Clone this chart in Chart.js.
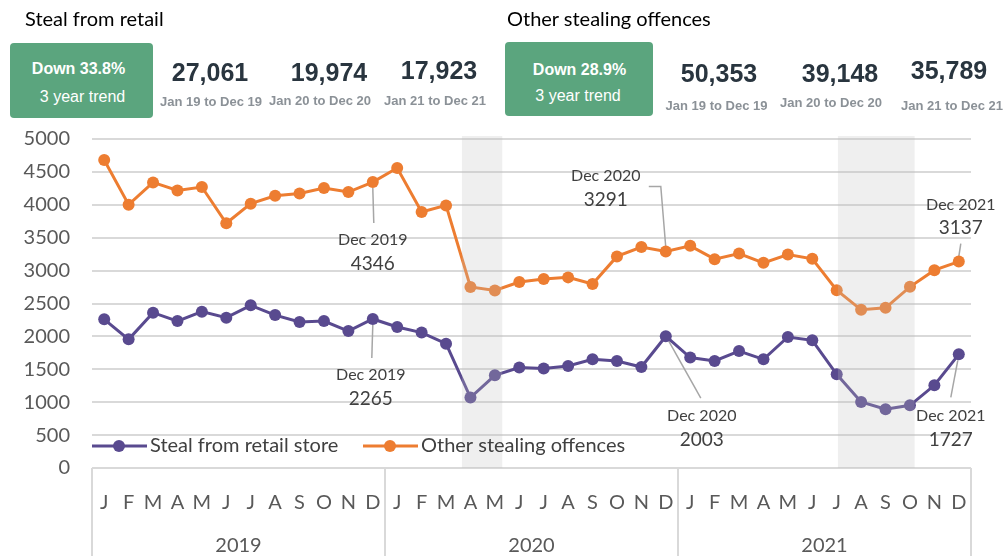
<!DOCTYPE html>
<html>
<head>
<meta charset="utf-8">
<script src="https://cdn.jsdelivr.net/npm/chart.js@4/dist/chart.umd.min.js"></script>
<style>
  html, body { margin:0; padding:0; background:#fff; }
  #wrap { position:relative; width:1008px; height:556px; overflow:hidden; }
  #c { position:absolute; left:0; top:0; }
  .t { position:absolute; white-space:nowrap; line-height:1; }
  .box { position:absolute; background:#5ba57e; border-radius:4px; }
</style>
</head>
<body>
<div id="wrap"><canvas id="c" width="1008" height="556"></canvas></div>
<script>
// ---------- data ----------
const months = ['J','F','M','A','M','J','J','A','S','O','N','D'];
const years = ['2019','2020','2021'];
const seriesNames = ['Steal from retail store', 'Other stealing offences'];
const retail = [
  2259,1955,2361,2233,2376,2285,2472,2324,2218,2233,2081,2265,
  2143,2058,1890,1070,1409,1526,1511,1550,1652,1626,1535,2003,
  1678,1626,1778,1652,1991,1941,1424,1003,892,953,1257,1727
];
const other = [
  4680,4002,4340,4219,4270,3720,4017,4138,4173,4255,4194,4346,
  4559,3890,3991,2751,2699,2827,2872,2897,2796,3216,3359,3291,
  3376,3174,3260,3118,3245,3179,2703,2404,2434,2753,3007,3137
];
const yMin = 0, yMax = 5000, yStep = 500;
const panelTitles = ['Steal from retail', 'Other stealing offences'];
const trendText = ['Down 33.8%', 'Down 28.9%'];
const trendSub = '3 year trend';
const totalsRetail = ['27,061', '19,974', '17,923'];
const totalsOther = ['50,353', '39,148', '35,789'];
const periods = ['Jan 19 to Dec 19', 'Jan 20 to Dec 20', 'Jan 21 to Dec 21'];
const calloutMonths = ['Dec 2019', 'Dec 2020', 'Dec 2021'];

// ---------- header ----------
const wrap = document.getElementById('wrap');
function put(text, x, y, css, align) {
  const d = document.createElement('div');
  d.className = 't';
  d.textContent = text;
  d.style.left = x + 'px';
  d.style.top = y + 'px';
  d.style.transform = align === 'left' ? 'translate(0,-50%)' : 'translate(-50%,-50%)';
  d.style.cssText += css;
  wrap.appendChild(d);
}
function box(x, y, w, h) {
  const b = document.createElement('div');
  b.className = 'box';
  b.style.left = x + 'px'; b.style.top = y + 'px';
  b.style.width = w + 'px'; b.style.height = h + 'px';
  wrap.appendChild(b);
}
const titleCss = 'font-family:Lato;font-size:20px;color:#000;';
const bigCss = 'font-family:"Liberation Sans";font-weight:bold;font-size:25px;color:#29353f;';
const perCss = 'font-family:"Liberation Sans";font-weight:bold;font-size:13px;color:#8b9197;';
const tBold = 'font-family:"Liberation Sans";font-weight:bold;font-size:16px;color:#fff;';
const tReg = 'font-family:"Liberation Sans";font-size:16px;color:#fff;';

put(panelTitles[0], 25, 18, titleCss, 'left');
put(panelTitles[1], 507, 18, titleCss, 'left');
box(10, 43, 143, 75);
box(505, 42, 148, 74);
put(trendText[0], 78.5, 68.5, tBold);
put(trendSub, 82.5, 97, tReg);
put(trendText[1], 579.5, 70, tBold);
put(trendSub, 578, 96, tReg);

const bigPos1 = [[210,72],[329,71.5],[439,69.5]];
const perPos1 = [[211,100.5],[320,100],[435,100]];
const bigPos2 = [[719,73],[840,73],[949,69.5]];
const perPos2 = [[716.5,105],[831,102],[952,105]];
totalsRetail.forEach((v,i)=>put(v, bigPos1[i][0], bigPos1[i][1], bigCss));
totalsOther.forEach((v,i)=>put(v, bigPos2[i][0], bigPos2[i][1], bigCss));
periods.forEach((v,i)=>put(v, perPos1[i][0], perPos1[i][1], perCss));
periods.forEach((v,i)=>put(v, perPos2[i][0], perPos2[i][1], perCss));

// ---------- chart ----------
const labels = [];
years.forEach(y => months.forEach(m => labels.push(m)));

const PURPLE = '#594a8f', ORANGE = '#ed7d31';
const GRID = '#d9d9d9', TXT = '#595959', DARK = '#404040', LEAD = '#a6a6a6';

// callouts: dataset index, data index, offsets relative to the point
const callouts = [
  {ds:1, i:11, name:calloutMonths[0], path:[[0,6],[1,41]], l1:[0,58], l2:[0,82]},
  {ds:0, i:11, name:calloutMonths[0], path:[[0,6],[-1,39]], l1:[-2,56], l2:[-2,80]},
  {ds:1, i:23, name:calloutMonths[1], path:[[0,-4],[-5,-65],[-17,-65]], l1:[-60,-76], l2:[-60,-52]},
  {ds:0, i:23, name:calloutMonths[1], path:[[3,5],[35,62]], l1:[36,80], l2:[36,104]},
  {ds:1, i:35, name:calloutMonths[2], path:[[0,-5],[2,-18]], l1:[2,-57], l2:[2,-34]},
  {ds:0, i:35, name:calloutMonths[2], path:[[-1,6],[-8,43]], l1:[-8,61], l2:[-8,86]}
];
const bands = [[14.65, 16.3], [30.05, 33.19]];

function xAt(chart, f) {
  const xs = chart.scales.x;
  const x0 = xs.getPixelForValue(0), step = xs.getPixelForValue(1) - x0;
  return x0 + f * step;
}

const overlay = {
  id: 'overlay',
  beforeDatasetsDraw(chart) {
    const ctx = chart.ctx;
    ctx.save();
    ctx.strokeStyle = LEAD; ctx.lineWidth = 1.5;
    callouts.forEach(c => {
      const p = chart.getDatasetMeta(c.ds).data[c.i];
      ctx.beginPath();
      c.path.forEach((o, k) => {
        const x = p.x + o[0], y = p.y + o[1];
        if (k === 0) ctx.moveTo(x, y); else ctx.lineTo(x, y);
      });
      ctx.stroke();
    });
    ctx.restore();
  },
  afterDatasetsDraw(chart) {
    const ctx = chart.ctx, ca = chart.chartArea;
    ctx.save();
    // shaded bands
    ctx.fillStyle = 'rgba(191,191,191,0.25)';
    bands.forEach(b => {
      const x1 = xAt(chart, b[0]), x2 = xAt(chart, b[1]);
      ctx.fillRect(x1, ca.top - 3, x2 - x1, ca.bottom - ca.top + 3);
    });
    // callout texts
    ctx.fillStyle = DARK;
    ctx.textAlign = 'center';
    ctx.textBaseline = 'middle';
    callouts.forEach(c => {
      const p = chart.getDatasetMeta(c.ds).data[c.i];
      const v = chart.data.datasets[c.ds].data[c.i];
      ctx.font = '16px Lato';
      ctx.fillText(c.name, p.x + c.l1[0], p.y + c.l1[1]);
      ctx.font = '19px Lato';
      ctx.fillText(String(v), p.x + c.l2[0], p.y + c.l2[1]);
    });
    // legend
    const ly = 446;
    const items = [
      {x: ca.left, color: PURPLE, text: chart.data.datasets[0].label},
      {x: 363, color: ORANGE, text: chart.data.datasets[1].label}
    ];
    items.forEach(it => {
      ctx.strokeStyle = it.color; ctx.lineWidth = 3;
      ctx.beginPath(); ctx.moveTo(it.x, ly); ctx.lineTo(it.x + 55, ly); ctx.stroke();
      ctx.fillStyle = it.color;
      ctx.beginPath(); ctx.arc(it.x + 27, ly, 6, 0, Math.PI * 2); ctx.fill();
      ctx.fillStyle = DARK;
      ctx.font = '20px Lato';
      ctx.textAlign = 'left';
      ctx.fillText(it.text, it.x + 58, ly);
    });
    ctx.restore();
  },
  afterDraw(chart) {
    const ctx = chart.ctx, ca = chart.chartArea;
    const H = chart.height;
    ctx.save();
    ctx.strokeStyle = GRID; ctx.lineWidth = 2;
    const n = months.length;
    for (let k = 0; k <= years.length; k++) {
      const x = xAt(chart, k * n - 0.5);
      ctx.beginPath(); ctx.moveTo(x, ca.bottom); ctx.lineTo(x, H); ctx.stroke();
    }
    ctx.fillStyle = TXT;
    ctx.font = '20px Lato';
    ctx.textAlign = 'center'; ctx.textBaseline = 'middle';
    years.forEach((y, k) => {
      const x = (xAt(chart, k * n - 0.5) + xAt(chart, (k + 1) * n - 0.5)) / 2;
      ctx.fillText(y, x, 546);
    });
    ctx.restore();
  }
};

new Chart(document.getElementById('c'), {
  type: 'line',
  data: {
    labels: labels,
    datasets: [
      {label: seriesNames[0], data: retail, borderColor: PURPLE, backgroundColor: PURPLE,
       pointBackgroundColor: PURPLE, pointBorderColor: PURPLE, pointBorderWidth: 0,
       pointRadius: 6, borderWidth: 3, tension: 0},
      {label: seriesNames[1], data: other, borderColor: ORANGE, backgroundColor: ORANGE,
       pointBackgroundColor: ORANGE, pointBorderColor: ORANGE, pointBorderWidth: 0,
       pointRadius: 6, borderWidth: 3, tension: 0}
    ]
  },
  options: {
    responsive: false,
    animation: false,
    events: [],
    layout: {padding: {left: 0, right: 37, top: 139, bottom: 0}},
    plugins: {legend: {display: false}, tooltip: {enabled: false}},
    scales: {
      x: {
        offset: true,
        grid: {display: false, drawTicks: false, offset: true},
        border: {display: false},
        ticks: {autoSkip: false, maxRotation: 0, padding: 23, color: TXT,
                font: {family: 'Lato', size: 20}},
        afterFit(s) { s.height = 88; }
      },
      y: {
        min: yMin, max: yMax,
        grid: {color: GRID, lineWidth: 2, drawTicks: false},
        border: {display: false},
        ticks: {stepSize: yStep, padding: 22, color: TXT, font: {family: 'Lato', size: 20},
                callback: v => String(v)},
        afterFit(s) { s.width = 92; }
      }
    }
  },
  plugins: [overlay]
});
</script>
</body>
</html>
